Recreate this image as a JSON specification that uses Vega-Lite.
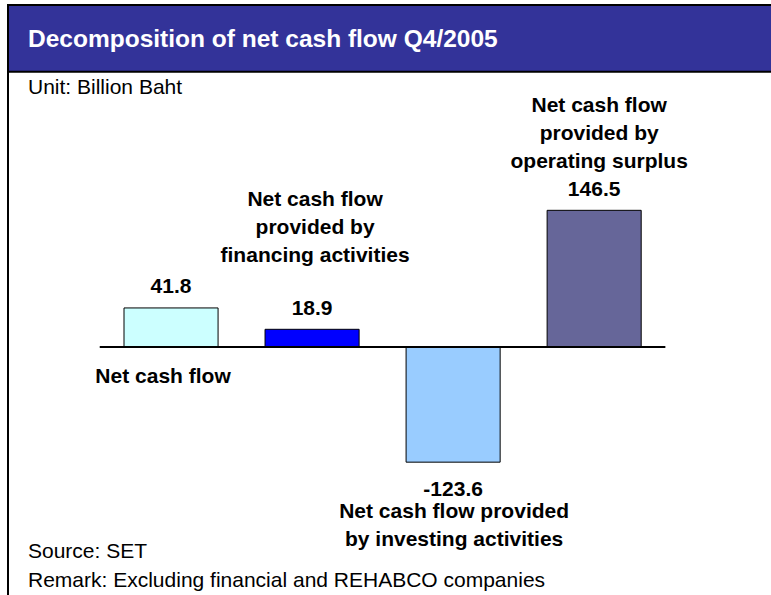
{
  "$schema": "https://vega.github.io/schema/vega-lite/v6.json",
  "width": 771,
  "height": 595,
  "autosize": {"type": "fit", "contains": "padding"},
  "padding": {"left": 7, "top": 4, "right": -2, "bottom": -2},
  "background": "white",
  "config": {
    "view": {"stroke": "black", "strokeWidth": 2},
    "text": {"font": "Liberation Sans"},
    "locale": {"number": {"decimal": ".", "thousands": ",", "grouping": [3], "currency": ["$", ""], "minus": "-"}}
  },
  "title": {
    "text": "Decomposition of net cash flow Q4/2005",
    "subtitle": "Unit: Billion Baht",
    "anchor": "start",
    "frame": "group",
    "orient": "top",
    "offset": -95,
    "dx": 20,
    "font": "Liberation Sans",
    "fontSize": 24.5,
    "fontWeight": "bold",
    "color": "white",
    "subtitleFont": "Liberation Sans",
    "subtitleFontSize": 21,
    "subtitleFontWeight": "normal",
    "subtitleColor": "black",
    "subtitlePadding": 25
  },
  "data": {
    "values": [
      {"item": "Net cash flow", "value": 41.8, "label": "Net cash flow"},
      {"item": "Financing activities", "value": 18.9, "label": "Net cash flow\nprovided by\nfinancing activities"},
      {"item": "Investing activities", "value": -123.6, "label": "Net cash flow provided\nby investing activities"},
      {"item": "Operating surplus", "value": 146.5, "label": "Net cash flow\nprovided by\noperating surplus"}
    ]
  },
  "encoding": {
    "x": {
      "field": "item",
      "type": "nominal",
      "sort": ["Net cash flow", "Financing activities", "Investing activities", "Operating surplus"],
      "scale": {"paddingInner": 0.333, "paddingOuter": 0.875, "align": 0.47},
      "axis": null
    }
  },
  "layer": [
    {
      "data": {"values": [{}]},
      "mark": {"type": "rect", "fill": "#333399", "stroke": "black", "strokeWidth": 2},
      "encoding": {
        "x": null,
        "y": {"datum": 366.7, "type": "quantitative", "scale": {"domain": [-268.2, 366.7], "nice": false, "zero": false}, "axis": null},
        "y2": {"datum": 295.0}
      }
    },
    {
      "mark": {"type": "bar", "stroke": "black", "strokeWidth": 1},
      "encoding": {
        "y": {"field": "value", "type": "quantitative"},
        "color": {
          "field": "item",
          "type": "nominal",
          "scale": {
            "domain": ["Net cash flow", "Financing activities", "Investing activities", "Operating surplus"],
            "range": ["#CCFFFF", "#0000FF", "#99CCFF", "#666699"]
          },
          "legend": null
        }
      }
    },
    {
      "data": {"values": [{}]},
      "mark": {"type": "rule", "color": "black", "strokeWidth": 2},
      "encoding": {
        "x": {"datum": "Net cash flow", "bandPosition": -0.258},
        "x2": {"datum": "Operating surplus", "bandPosition": 1.257},
        "y": {"datum": 0, "type": "quantitative"}
      }
    },
    {
      "transform": [{"filter": "datum.value > 0"}],
      "mark": {"type": "text", "fontSize": 21, "fontWeight": "bold", "baseline": "alphabetic", "dy": -14.5, "color": "black"},
      "encoding": {
        "y": {"field": "value", "type": "quantitative"},
        "text": {"field": "value", "type": "quantitative", "format": ".1f"}
      }
    },
    {
      "transform": [{"filter": "datum.value < 0"}],
      "mark": {"type": "text", "fontSize": 21, "fontWeight": "bold", "baseline": "alphabetic", "dy": 34, "color": "black"},
      "encoding": {
        "y": {"field": "value", "type": "quantitative"},
        "text": {"field": "value", "type": "quantitative", "format": ".1f"}
      }
    },
    {
      "transform": [{"filter": "datum.item == 'Net cash flow'"}],
      "mark": {"type": "text", "fontSize": 21, "fontWeight": "bold", "baseline": "alphabetic", "dy": 36, "dx": -8, "lineBreak": "\n", "color": "black"},
      "encoding": {
        "y": {"datum": 0, "type": "quantitative"},
        "text": {"field": "label"}
      }
    },
    {
      "transform": [{"filter": "datum.item == 'Financing activities'"}],
      "mark": {"type": "text", "fontSize": 21, "fontWeight": "bold", "baseline": "alphabetic", "dy": -123, "dx": 3, "lineHeight": 28, "lineBreak": "\n", "color": "black"},
      "encoding": {
        "y": {"field": "value", "type": "quantitative"},
        "text": {"field": "label"}
      }
    },
    {
      "transform": [{"filter": "datum.item == 'Investing activities'"}],
      "mark": {"type": "text", "fontSize": 21, "fontWeight": "bold", "baseline": "alphabetic", "dy": 56, "dx": 1, "lineHeight": 27.5, "lineBreak": "\n", "color": "black"},
      "encoding": {
        "y": {"field": "value", "type": "quantitative"},
        "text": {"field": "label"}
      }
    },
    {
      "transform": [{"filter": "datum.item == 'Operating surplus'"}],
      "mark": {"type": "text", "fontSize": 21, "fontWeight": "bold", "baseline": "alphabetic", "dy": -98, "dx": 5, "lineHeight": 28, "lineBreak": "\n", "color": "black"},
      "encoding": {
        "y": {"field": "value", "type": "quantitative"},
        "text": {"field": "label"}
      }
    },
    {
      "data": {"values": [{"note": "Source: SET\nRemark: Excluding financial and REHABCO companies"}]},
      "mark": {"type": "text", "fontSize": 21, "align": "left", "baseline": "alphabetic", "dx": -96, "lineHeight": 29, "lineBreak": "\n", "color": "black"},
      "encoding": {
        "x": {"datum": "Net cash flow", "bandPosition": 0},
        "y": {"datum": -226.4, "type": "quantitative"},
        "text": {"field": "note"}
      }
    }
  ]
}
